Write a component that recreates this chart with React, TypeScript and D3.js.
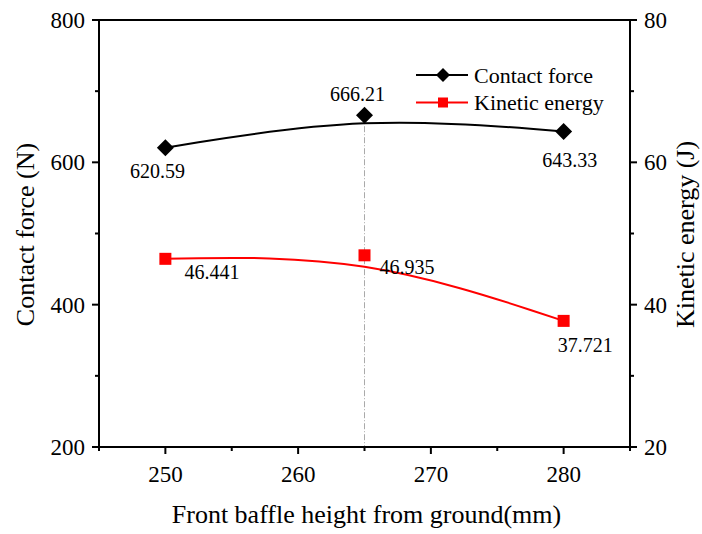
import React from "react";
import * as d3 from "d3";

const xValues = [250, 265, 280];
const contactForce = [620.59, 666.21, 643.33];
const kineticEnergy = [46.441, 46.935, 37.721];
const xTicks = [250, 260, 270, 280];
const xMinorTicks = [245, 255, 265, 275, 285];
const leftTicks = [200, 400, 600, 800];
const leftMinorTicks = [300, 500, 700];
const rightTicks = [20, 40, 60, 80];
const rightMinorTicks = [30, 50, 70];
const seriesNames = ["Contact force", "Kinetic energy"];
const xTitle = "Front baffle height from ground(mm)";
const leftTitle = "Contact force (N)";
const rightTitle = "Kinetic energy (J)";

// label offsets (dx, dy, anchor) per point
const forceLabelPos: [number, number, string][] = [
  [-8, 30, "middle"],
  [-7, -14, "middle"],
  [6, 36, "middle"],
];
const energyLabelPos: [number, number, string][] = [
  [19, 20, "start"],
  [15, 19, "start"],
  [-6, 31, "start"],
];

const W = 702, H = 534;
const L = 99, R = 630, T = 20, B = 447;

function T2(props: any) {
  const { children, size, ...rest } = props;
  return (
    <text {...rest} fontSize={size} style={{ fontFamily: '"Liberation Serif"', fontSize: size }}>
      {children}
    </text>
  );
}

export default function App() {
  const x = d3.scaleLinear().domain([245, 285]).range([L, R]);
  const yL = d3.scaleLinear().domain([200, 800]).range([B, T]);
  const yR = d3.scaleLinear().domain([20, 80]).range([B, T]);

  const forcePts = xValues.map((v, i) => [x(v), yL(contactForce[i])] as [number, number]);
  const energyPts = xValues.map((v, i) => [x(v), yR(kineticEnergy[i])] as [number, number]);
  const line = d3.line().curve(d3.curveBasis);

  const diamond = (cx: number, cy: number, r: number) =>
    `M${cx},${cy - r}L${cx + r},${cy}L${cx},${cy + r}L${cx - r},${cy}Z`;

  const fmtF = (v: number) => v.toFixed(2);
  const fmtE = (v: number) => v.toFixed(3);

  const tickFont = 23;
  const labelFont = 20;
  const legendFont = 22;
  const titleFont = 26;
  const midY = (T + B) / 2 + 1;

  return (
    <svg width={W} height={H} style={{ position: "absolute", left: 0, top: 0, background: "#fff" }}>
      <rect x={0} y={0} width={W} height={H} fill="#fff" />
      {/* drop line */}
      <line x1={x(xValues[1])} x2={x(xValues[1])} y1={yL(contactForce[1])} y2={B} stroke="#aaa" strokeWidth={1} strokeDasharray="6,2,1,2" />

      {/* curves */}
      <path d={line(forcePts) || ""} fill="none" stroke="#000" strokeWidth={2} />
      <path d={line(energyPts) || ""} fill="none" stroke="#ff0000" strokeWidth={2} />

      {/* markers */}
      {forcePts.map(([cx, cy], i) => (
        <path key={"f" + i} d={diamond(cx, cy, 8.5)} fill="#000" />
      ))}
      {energyPts.map(([cx, cy], i) => (
        <rect key={"e" + i} x={cx - 6} y={cy - 6} width={12} height={12} fill="#ff0000" />
      ))}

      {/* data labels */}
      {forcePts.map(([cx, cy], i) => (
        <T2 key={"fl" + i} x={cx + forceLabelPos[i][0]} y={cy + forceLabelPos[i][1]} textAnchor={forceLabelPos[i][2]} size={labelFont} fill="#000">
          {fmtF(contactForce[i])}
        </T2>
      ))}
      {energyPts.map(([cx, cy], i) => (
        <T2 key={"el" + i} x={cx + energyLabelPos[i][0]} y={cy + energyLabelPos[i][1]} textAnchor={energyLabelPos[i][2]} size={labelFont} fill="#000">
          {fmtE(kineticEnergy[i])}
        </T2>
      ))}

      {/* frame */}
      <rect x={L} y={T} width={R - L} height={B - T} fill="none" stroke="#000" strokeWidth={2} />

      {/* bottom axis ticks */}
      {xTicks.map((t) => (
        <g key={"xt" + t}>
          <line x1={x(t)} x2={x(t)} y1={B} y2={B + 7} stroke="#000" strokeWidth={2} />
          <T2 x={x(t)} y={B + 35} textAnchor="middle" size={tickFont}>{t}</T2>
        </g>
      ))}
      {xMinorTicks.map((t) => (
        <line key={"xm" + t} x1={x(t)} x2={x(t)} y1={B} y2={B + 4} stroke="#000" strokeWidth={2} />
      ))}

      {/* left axis */}
      {leftTicks.map((t) => (
        <g key={"lt" + t}>
          <line x1={L - 7} x2={L} y1={yL(t)} y2={yL(t)} stroke="#000" strokeWidth={2} />
          <T2 x={L - 14} y={yL(t) + 8} textAnchor="end" size={tickFont}>{t}</T2>
        </g>
      ))}
      {leftMinorTicks.map((t) => (
        <line key={"lm" + t} x1={L - 4} x2={L} y1={yL(t)} y2={yL(t)} stroke="#000" strokeWidth={2} />
      ))}

      {/* right axis */}
      {rightTicks.map((t) => (
        <g key={"rt" + t}>
          <line x1={R} x2={R + 7} y1={yR(t)} y2={yR(t)} stroke="#000" strokeWidth={2} />
          <T2 x={R + 14} y={yR(t) + 8} textAnchor="start" size={tickFont}>{t}</T2>
        </g>
      ))}
      {rightMinorTicks.map((t) => (
        <line key={"rm" + t} x1={R} x2={R + 4} y1={yR(t)} y2={yR(t)} stroke="#000" strokeWidth={2} />
      ))}

      {/* axis titles */}
      <T2 x={(L + R) / 2 + 2} y={523} textAnchor="middle" size={titleFont}>{xTitle}</T2>
      <T2 transform={`translate(34,${midY}) rotate(-90)`} textAnchor="middle" size={titleFont}>{leftTitle}</T2>
      <T2 transform={`translate(694,${midY}) rotate(-90)`} textAnchor="middle" size={titleFont}>{rightTitle}</T2>

      {/* legend */}
      <g>
        <line x1={416} x2={468} y1={75} y2={75} stroke="#000" strokeWidth={2} />
        <path d={diamond(443, 75, 7)} fill="#000" />
        <T2 x={474} y={82.5} size={legendFont}>{seriesNames[0]}</T2>
        <line x1={416} x2={468} y1={102.5} y2={102.5} stroke="#ff0000" strokeWidth={2} />
        <rect x={438} y={97.5} width={10} height={10} fill="#ff0000" />
        <T2 x={474} y={109.5} size={legendFont}>{seriesNames[1]}</T2>
      </g>
    </svg>
  );
}
